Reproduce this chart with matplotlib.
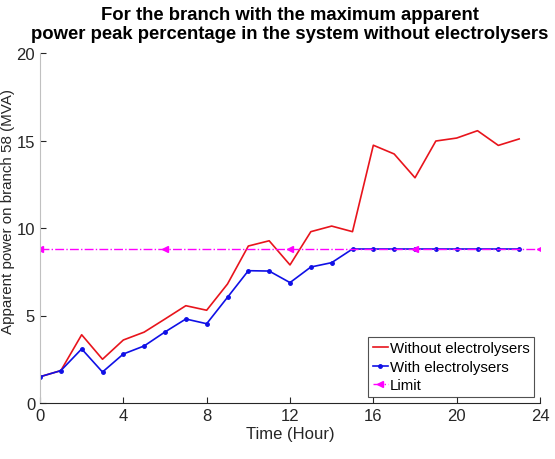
import numpy as np
import matplotlib.pyplot as plt

plt.rcParams['font.family'] = ['Liberation Sans', 'DejaVu Sans']

# Datos
horas = np.arange(0, 24)
sin_electrolizadores = [1.5, 1.85, 3.9, 2.5, 3.6, 4.05, 4.8, 5.56, 5.3, 6.8, 8.97, 9.27,
                        7.89, 9.79, 10.11, 9.79, 14.73, 14.23, 12.87, 14.97, 15.14, 15.56,
                        14.72, 15.09]
con_electrolizadores = [1.5, 1.85, 3.09, 1.77, 2.8, 3.26, 4.06, 4.8, 4.53, 6.04, 7.56, 7.54,
                        6.88, 7.77, 8.02, 8.8, 8.8, 8.8, 8.8, 8.8, 8.8, 8.8, 8.8, 8.8]
horas_limite = np.arange(0, 25)
limite = np.full(25, 8.8)

fig = plt.figure(figsize=(5.55, 4.6), dpi=100)
ax = fig.add_axes([40 / 555, 56 / 460, 500 / 555, 350 / 460])

ax.plot(horas, sin_electrolizadores, color='#e8141c', linewidth=1.2, label='Without electrolysers')
ax.plot(horas, con_electrolizadores, color='#1010e6', linewidth=1.2, marker='.', markersize=5,
        label='With electrolysers')
ax.plot(horas_limite, limite, color='#ff00ff', linewidth=1.0, linestyle='-.', marker='<',
        markersize=4, markevery=6, label='Limit')

ax.set_xlim(0, 24)
ax.set_ylim(0, 20)
ax.set_xticks(range(0, 25, 4))
ax.set_yticks(range(0, 21, 5))
ax.tick_params(direction='in', labelsize=12, colors='#262626', length=4)
ax.spines['top'].set_visible(False)
ax.spines['right'].set_visible(False)
ax.spines['left'].set_color('#c0c0c0')
ax.spines['bottom'].set_color('#262626')

ax.set_xlabel('Time (Hour)', fontsize=12, color='#262626', labelpad=2)
ax.set_ylabel('Apparent power on branch 58 (MVA)', fontsize=10.9, color='#262626')
ax.yaxis.set_label_coords(-0.05, 0.55)
ax.set_title('For the branch with the maximum apparent\npower peak percentage in the system without electrolysers',
             fontsize=13.3, fontweight='bold', pad=11, x=0.5, linespacing=1.15)

leg = ax.legend(loc='lower right', fontsize=10.8, frameon=True, fancybox=False,
                handlelength=1.0, handletextpad=0.15, borderpad=0.3, labelspacing=0.3,
                borderaxespad=0.4)
leg.get_frame().set_edgecolor('#262626')
leg.get_frame().set_linewidth(0.8)

plt.savefig('out.png', dpi=100)
